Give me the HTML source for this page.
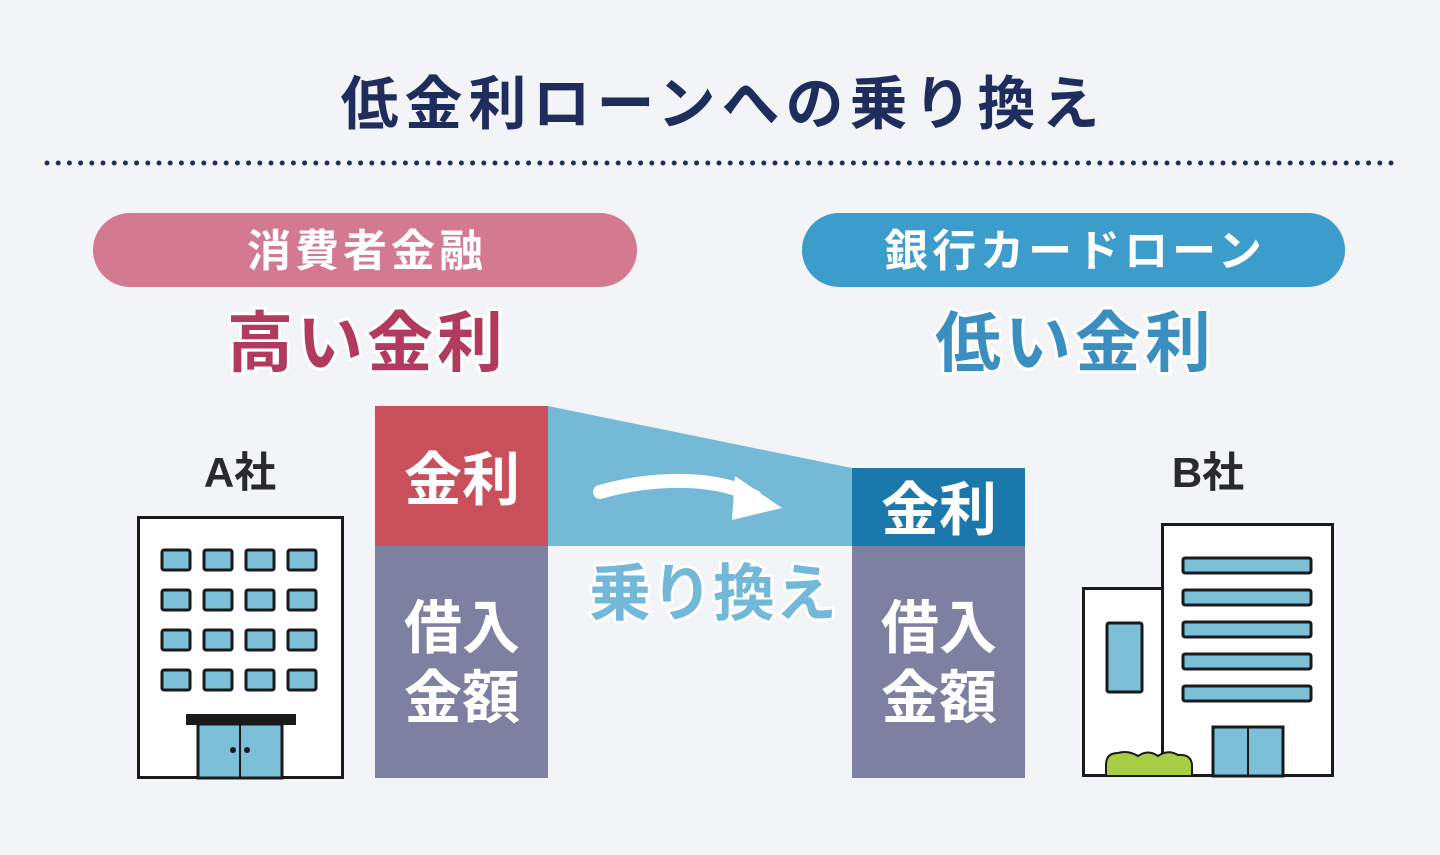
<!DOCTYPE html>
<html><head><meta charset="utf-8"><style>
html,body{margin:0;padding:0;background:#f2f4f7;}
svg{display:block;}
text{font-family:"Liberation Sans","Noto Sans CJK JP",sans-serif;font-weight:bold;}
</style></head><body>
<svg width="1440" height="855" viewBox="0 0 1440 855" xmlns="http://www.w3.org/2000/svg">
<rect width="1440" height="855" fill="#f2f4f7"/>
<text x="723" y="124" font-size="58" fill="#1e2d5c" text-anchor="middle" letter-spacing="6">低金利ローンへの乗り換え</text>
<line x1="47" y1="163" x2="1395" y2="163" stroke="#1e2d5c" stroke-width="5" stroke-linecap="round" stroke-dasharray="0 11.2"/>
<rect x="93" y="213" width="544" height="74" rx="37" fill="#d47a90"/>
<text x="367" y="266" font-size="44" fill="#fff" text-anchor="middle" font-weight="normal" letter-spacing="4">消費者金融</text>
<rect x="802" y="213" width="543" height="74" rx="37" fill="#3c9ccc"/>
<text x="1075" y="266" font-size="44" fill="#fff" text-anchor="middle" font-weight="normal" letter-spacing="4">銀行カードローン</text>
<text x="367" y="366" font-size="66" fill="#b23a5c" text-anchor="middle" stroke="#fff" stroke-width="6" paint-order="stroke" letter-spacing="4">高い金利</text>
<text x="1075" y="366" font-size="66" fill="#3a8fc0" text-anchor="middle" stroke="#fff" stroke-width="6" paint-order="stroke" letter-spacing="4">低い金利</text>
<text x="240" y="487" font-size="42" fill="#2a2a2a" text-anchor="middle" font-weight="normal">A社</text>
<text x="1208" y="487" font-size="42" fill="#2a2a2a" text-anchor="middle" font-weight="normal">B社</text>
<!-- building A -->
<rect x="138.5" y="517.5" width="204" height="260" fill="#fff" stroke="#1a1a1a" stroke-width="3"/>
<g fill="#7cbfd8" stroke="#1a1a1a" stroke-width="3">
<rect x="162" y="550" width="28" height="20" rx="2"/><rect x="204" y="550" width="28" height="20" rx="2"/><rect x="246" y="550" width="28" height="20" rx="2"/><rect x="288" y="550" width="28" height="20" rx="2"/>
<rect x="162" y="590" width="28" height="20" rx="2"/><rect x="204" y="590" width="28" height="20" rx="2"/><rect x="246" y="590" width="28" height="20" rx="2"/><rect x="288" y="590" width="28" height="20" rx="2"/>
<rect x="162" y="630" width="28" height="20" rx="2"/><rect x="204" y="630" width="28" height="20" rx="2"/><rect x="246" y="630" width="28" height="20" rx="2"/><rect x="288" y="630" width="28" height="20" rx="2"/>
<rect x="162" y="670" width="28" height="20" rx="2"/><rect x="204" y="670" width="28" height="20" rx="2"/><rect x="246" y="670" width="28" height="20" rx="2"/><rect x="288" y="670" width="28" height="20" rx="2"/>
<rect x="198" y="724" width="84" height="54"/>
</g>
<line x1="240" y1="724" x2="240" y2="778" stroke="#1a1a1a" stroke-width="2"/>
<rect x="186" y="714" width="110" height="11" fill="#1a1a1a"/>
<circle cx="233" cy="750" r="3" fill="#1a1a1a"/><circle cx="247" cy="750" r="3" fill="#1a1a1a"/>
<!-- boxes -->
<polygon points="548,406 852,468 852,546 548,546" fill="#74bad6"/>
<path d="M600,492 C660,475 720,478 755,497" stroke="#fff" stroke-width="14" fill="none" stroke-linecap="round"/>
<polygon points="735,476 782,508 732,520" fill="#fff"/>
<rect x="375" y="406" width="173" height="140" fill="#c94f5b"/>
<rect x="375" y="546" width="173" height="232" fill="#7d80a0"/>
<rect x="852" y="468" width="173" height="78" fill="#1a78ac"/>
<rect x="852" y="546" width="173" height="232" fill="#7d80a0"/>
<g fill="#fff" font-size="58" text-anchor="middle" font-weight="normal">
<text x="462" y="500">金利</text>
<text x="462" y="648">借入</text>
<text x="462" y="718">金額</text>
<text x="939" y="530">金利</text>
<text x="939" y="648">借入</text>
<text x="939" y="718">金額</text>
</g>
<text x="713" y="615" font-size="62" fill="#72b8d8" text-anchor="middle" stroke="#fff" stroke-width="6" paint-order="stroke" stroke-linejoin="round">乗り換え</text>
<!-- building B -->
<rect x="1083.5" y="588.5" width="80" height="187" fill="#fff" stroke="#1a1a1a" stroke-width="3"/>
<rect x="1162.5" y="524.5" width="170" height="251" fill="#fff" stroke="#1a1a1a" stroke-width="3"/>
<g fill="#7cbfd8" stroke="#1a1a1a" stroke-width="3">
<rect x="1183" y="558" width="128" height="15" rx="2"/>
<rect x="1183" y="590" width="128" height="15" rx="2"/>
<rect x="1183" y="622" width="128" height="15" rx="2"/>
<rect x="1183" y="654" width="128" height="15" rx="2"/>
<rect x="1183" y="686" width="128" height="15" rx="2"/>
<rect x="1107" y="623" width="35" height="69" rx="2"/>
<rect x="1213" y="727" width="70" height="49"/>
</g>
<line x1="1248" y1="727" x2="1248" y2="776" stroke="#1a1a1a" stroke-width="2"/>
<path d="M1106,776 L1106,765 Q1106,753 1118,753 Q1128,750 1138,756 Q1148,749 1158,756 Q1168,749 1178,755 Q1192,754 1192,766 L1192,776 Z" fill="#a9cc45" stroke="#1a1a1a" stroke-width="2"/>
</svg>
</body></html>
